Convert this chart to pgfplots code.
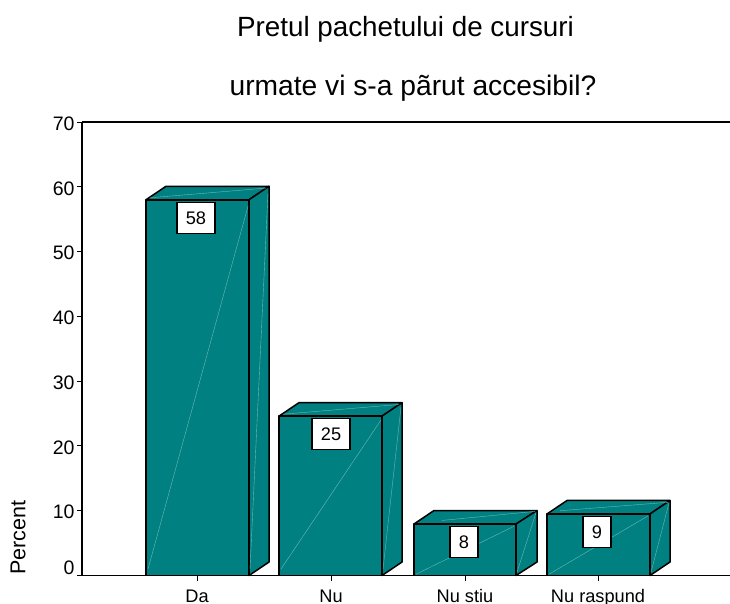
\documentclass[border=0pt]{standalone}
\usepackage{fontspec}
\setmainfont{Liberation Sans}
\usepackage{pgfplots}
\pgfplotsset{compat=1.18}
\definecolor{tealbar}{HTML}{008080}
\definecolor{tealline}{HTML}{6FB8B8}
\pgfplotsset{
  face/.style={fill=tealbar,draw=black,line width=1.5pt,line join=round,no marks},
  diag/.style={draw=tealline,line width=0.4pt,no marks}
}
\begin{document}
\begin{tikzpicture}[x=1pt,y=1pt]
\useasboundingbox (0,0) rectangle (730,603);
\node[font=\fontsize{27.8}{32}\selectfont] at (405.5,573.5) {Pretul pachetului de cursuri};
\node[font=\fontsize{28.2}{32}\selectfont] at (413,514.5) {urmate vi s-a pãrut accesibil?};
\begin{axis}[
  at={(82pt,27.5pt)},anchor=origin,
  scale only axis,width=648pt,height=453.5pt,
  xmin=82,xmax=730,ymin=0,ymax=70,
  axis x line=bottom,axis y line=left,
  axis line style={-,line width=1.5pt,black},
  clip=false,
  xtick={197,331,465,598},
  xticklabels={Da,Nu,Nu stiu,Nu raspund},
  ytick={0,10,20,30,40,50,60,70},
  yticklabels={\raisebox{18pt}{0},10,20,30,40,50,60,70},
  tick style={black,line width=1pt},
  major tick length=5pt,
  tick align=outside,
  xticklabel style={font=\fontsize{18.2}{20}\selectfont,anchor=base,yshift=-22pt},
  yticklabel style={font=\fontsize{19.5}{22}\selectfont,anchor=east,xshift=1pt,yshift=-1.5pt},
  /pgf/number format/assume math mode=true,
]
% top line of the frame
\addplot[black,line width=1.5pt,no marks] coordinates {(82,70)(730,70)};
% Da
\addplot[face] coordinates {(146,58)(166,60.08)(269,60.08)(249,58)} -- cycle;
\addplot[face] coordinates {(249,0)(269,2.08)(269,60.08)(249,58)} -- cycle;
\addplot[face] coordinates {(146,0)(249,0)(249,58)(146,58)} -- cycle;
\addplot[diag] coordinates {(148,1)(248,57)};
\addplot[diag] coordinates {(150,58.3)(266,59.8)};
\addplot[diag] coordinates {(250,1)(268,59)};
% Nu
\addplot[face] coordinates {(279,24.6)(299,26.68)(402,26.68)(382,24.6)} -- cycle;
\addplot[face] coordinates {(382,0)(402,2.08)(402,26.68)(382,24.6)} -- cycle;
\addplot[face] coordinates {(279,0)(382,0)(382,24.6)(279,24.6)} -- cycle;
\addplot[diag] coordinates {(281,1)(381,24)};
\addplot[diag] coordinates {(283,24.9)(399,26.4)};
\addplot[diag] coordinates {(383,1)(401,26)};
% Nu stiu
\addplot[face] coordinates {(414,7.95)(434,10.03)(537,10.03)(516,7.95)} -- cycle;
\addplot[face] coordinates {(516,0)(537,2.08)(537,10.03)(516,7.95)} -- cycle;
\addplot[face] coordinates {(414,0)(516,0)(516,7.95)(414,7.95)} -- cycle;
\addplot[diag] coordinates {(416,0.2)(514,7.6)};
\addplot[diag] coordinates {(442,8.5)(535,9.9)};
\addplot[diag] coordinates {(517,0.5)(536,9.7)};
% Nu raspund
\addplot[face] coordinates {(547,9.5)(567,11.58)(670,11.58)(650,9.5)} -- cycle;
\addplot[face] coordinates {(650,0)(670,2.08)(670,11.58)(650,9.5)} -- cycle;
\addplot[face] coordinates {(547,0)(650,0)(650,9.5)(547,9.5)} -- cycle;
\addplot[diag] coordinates {(549,0.2)(648,9.2)};
\addplot[diag] coordinates {(560,10)(668,11.3)};
\addplot[diag] coordinates {(651,0.5)(669,11.2)};
% value labels
\addplot[draw=none,no marks,
  point meta=explicit symbolic,
  nodes near coords,
  nodes near coords style={anchor=north,yshift=-2pt,fill=white,draw=black,line width=1.2pt,
    inner sep=0pt,minimum height=31pt,minimum width=28pt,text=black,
    font=\fontsize{18.2}{20}\selectfont},
] coordinates {(464,7.95)[8] (597,9.5)[9]};
\addplot[draw=none,no marks,
  point meta=explicit symbolic,
  nodes near coords,
  nodes near coords style={anchor=north,yshift=-2pt,fill=white,draw=black,line width=1.2pt,
    inner sep=0pt,minimum height=31pt,minimum width=38pt,text=black,
    font=\fontsize{18.2}{20}\selectfont},
] coordinates {(196,58)[58] (331,24.6)[25]};
\end{axis}
\node[rotate=90,font=\fontsize{21.5}{24}\selectfont,anchor=center] at (18,65.5) {Percent};
\end{tikzpicture}
\end{document}
